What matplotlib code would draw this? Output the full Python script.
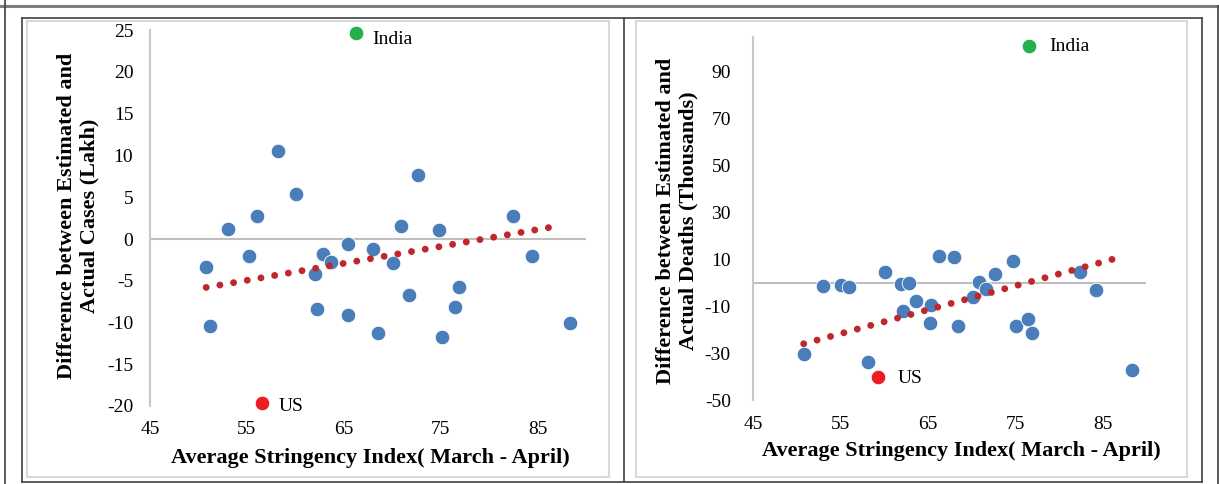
import matplotlib
matplotlib.use("Agg")
import matplotlib.pyplot as plt
from matplotlib.lines import Line2D
from matplotlib.patches import Rectangle

plt.rcParams['font.family'] = ['Liberation Serif', 'DejaVu Serif']
plt.rcParams['axes.unicode_minus'] = False

# stringency index vs. difference in cases (lakh), other countries
cases_x = [58.2, 72.7, 60.1, 56.0, 82.5, 53.0, 70.9, 74.8, 50.8, 55.2, 62.9, 63.7, 62.0,
           65.4, 68.0, 70.1, 84.4, 51.2, 62.2, 65.4, 68.5, 71.7, 75.1, 76.5, 76.9, 88.4]
cases_y = [10.5, 7.7, 5.35, 2.7, 2.7, 1.2, 1.5, 1.1, -3.3, -2.0, -1.8, -2.8, -4.2,
           -0.6, -1.2, -2.9, -2.0, -10.4, -8.4, -9.1, -11.3, -6.7, -11.7, -8.2, -5.8, -10.1]
india_cases = (66.3, 24.7)
us_cases = (56.6, -19.6)
cases_trend_x = [50.8, 87.3]
cases_trend_y = [-5.8, 1.6]

# stringency index vs. difference in deaths (thousands)
deaths_x = [53.0, 55.1, 56.0, 60.1, 61.9, 62.9, 63.7, 62.2, 65.4, 65.3, 66.3, 68.0, 68.5,
            70.2, 70.9, 71.7, 72.7, 74.7, 75.1, 76.5, 76.9, 82.4, 84.3, 50.8, 58.2, 88.4]
deaths_y = [-1.4, -0.7, -1.8, 4.7, -0.3, 0.0, -7.8, -12.1, -9.4, -17.1, 11.6, 11.0, -18.2,
            -6.1, 0.3, -2.6, 4.0, 9.2, -18.2, -15.5, -21.2, 4.6, -3.0, -30.3, -33.8, -37.1]
india_deaths = (76.6, 101.0)
us_deaths = (59.3, -40.2)
deaths_trend_x = [50.8, 87.2]
deaths_trend_y = [-25.9, 11.2]

xticks = [45, 55, 65, 75, 85]
cases_yticks = [25, 20, 15, 10, 5, 0, -5, -10, -15, -20]
deaths_yticks = [90, 70, 50, 30, 10, -10, -30, -50]

W, H = 1219, 484
fig = plt.figure(figsize=(W / 100, H / 100), dpi=100)

def px_axes(x0, y0, x1, y1):
    return fig.add_axes([x0 / W, 1 - y1 / H, (x1 - x0) / W, (y1 - y0) / H])

def draw(ax, xs, ys, india, us, tx, ty, yticks, ylim, ypad, ind_off, us_off):
    ax.axhline(0, color='#BFBFBF', lw=1.5, zorder=1)
    ax.scatter(xs, ys, s=110, color='#4A7EBB', edgecolors='white', linewidths=0.6,
               zorder=3, clip_on=False)
    ax.scatter([india[0]], [india[1]], s=110, color='#22B14C', edgecolors='white',
               linewidths=0.6, zorder=3, clip_on=False)
    ax.scatter([us[0]], [us[1]], s=110, color='#ED1C24', edgecolors='white',
               linewidths=0.6, zorder=3, clip_on=False)
    # dotted trendline sits on top of the markers, like excel
    ax.plot(tx, ty, color='#C0272D', lw=5, linestyle=(0, (0.001, 2.0)),
            dash_capstyle='round', zorder=4)
    ax.annotate('India', india, xytext=ind_off, textcoords='offset points',
                fontsize=14, va='center', ha='left')
    ax.annotate('US', us, xytext=us_off, textcoords='offset points',
                fontsize=14, va='center', ha='left')
    ax.set_xlim(45, 90)
    ax.set_ylim(*ylim)
    ax.set_xticks(xticks)
    ax.set_yticks(yticks)
    ax.tick_params(length=0, labelsize=14)
    ax.tick_params(axis='x', pad=11)
    ax.tick_params(axis='y', pad=ypad)
    for s in ['top', 'right', 'bottom']:
        ax.spines[s].set_visible(False)
    ax.spines['left'].set_color('#C8C8C8')
    ax.spines['left'].set_linewidth(1.5)
    ax.patch.set_alpha(0)

ax1 = px_axes(150, 30.25, 586, 406)
draw(ax1, cases_x, cases_y, india_cases, us_cases, cases_trend_x, cases_trend_y,
     cases_yticks, (-20, 25), 12, (11.5, -5), (11.5, -2.5))

ax2 = px_axes(753, 36.7, 1146.3, 400.3)
draw(ax2, deaths_x, deaths_y, india_deaths, us_deaths, deaths_trend_x, deaths_trend_y,
     deaths_yticks, (-50, 105), 16, (14.5, 0), (14.5, -1.2))

fig.text(78 / W, 1 - 216 / H, 'Difference between Estimated and\nActual Cases (Lakh)',
         rotation=90, ha='center', va='center', multialignment='center',
         fontsize=16, fontweight='bold', linespacing=1.15)
fig.text(677 / W, 1 - 221 / H, 'Difference between Estimated and\nActual Deaths (Thousands)',
         rotation=90, ha='center', va='center', multialignment='center',
         fontsize=16, fontweight='bold', linespacing=1.15)
fig.text(370 / W, 1 - 458 / H, 'Average Stringency Index( March - April)',
         ha='center', va='center', fontsize=16, fontweight='bold')
fig.text(961 / W, 1 - 451 / H, 'Average Stringency Index( March - April)',
         ha='center', va='center', fontsize=16, fontweight='bold')

# chart area boxes
for x0, x1 in [(27, 609), (636, 1187)]:
    fig.add_artist(Rectangle((x0 / W, 1 - 477 / H), (x1 - x0) / W, (477 - 21) / H,
                             transform=fig.transFigure, fill=False,
                             edgecolor='#D9D9D9', lw=1.5))

# table frame
def fline(xa, ya, xb, yb, c='#404040', lw=1.2):
    fig.add_artist(Line2D([xa / W, xb / W], [1 - ya / H, 1 - yb / H],
                          transform=fig.transFigure, color=c, lw=lw))

fline(0, 6, W, 6, c='#808080', lw=2.2)
fline(5, 0, 5, H)
fline(1218, 6, 1218, H)
fline(22, 18.3, 1202, 18.3)
fline(22, 18.3, 22, 482)
fline(624, 18.3, 624, 482)
fline(1202, 18.3, 1202, 482)
fline(22, 482, 1202, 482)

fig.savefig('out.png', dpi=100)
